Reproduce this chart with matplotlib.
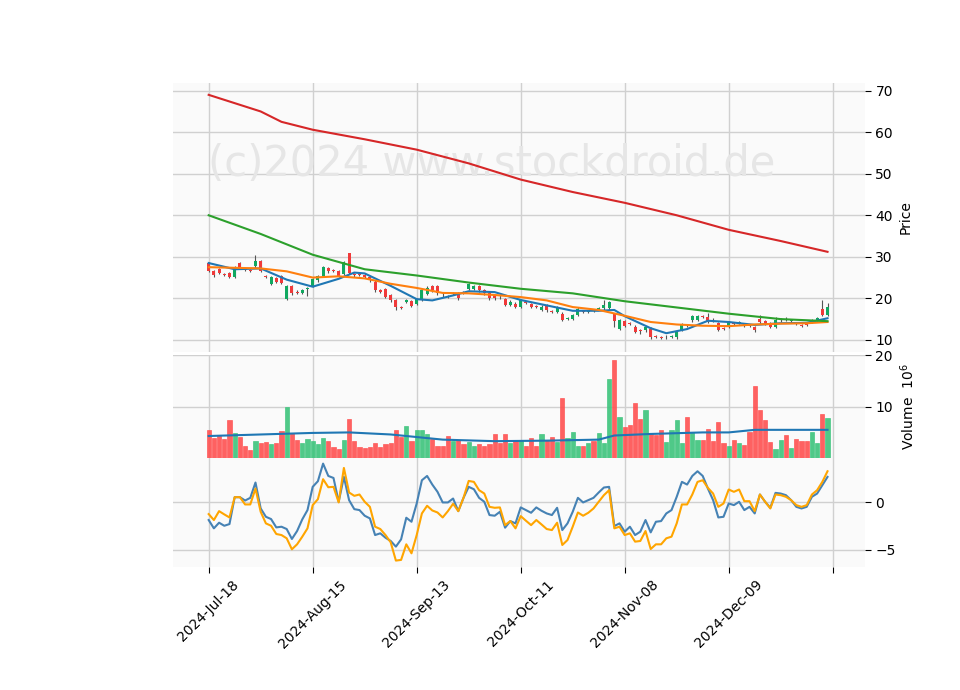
import matplotlib
matplotlib.use('Agg')
import matplotlib.pyplot as plt

# candles (open / close)
opens = [28.5, 26.5, 27.0, 25.9, 26.0, 25.1, 28.5, 27.1, 26.8, 27.7,
         29.0, 25.4, 23.4, 24.9, 25.4, 19.8, 23.0, 21.6, 21.4, 22.3,
         23.0, 24.3, 25.4, 27.3, 26.8, 26.6, 25.8, 30.9, 25.9, 25.8,
         25.7, 25.1, 24.0, 22.0, 22.2, 20.7, 19.6, 17.9, 19.1, 19.4,
         18.6, 19.6, 21.0, 22.9, 22.9, 20.9, 20.5, 21.0, 21.2, 21.5,
         22.2, 22.3, 23.0, 22.0, 21.4, 20.6, 20.4, 19.8, 18.4, 18.7,
         18.0, 19.1, 18.6, 18.1, 17.2, 18.4, 16.9, 16.8, 16.3, 15.0,
         15.0, 16.0, 16.9, 16.7, 17.1, 17.5, 17.6, 17.6, 16.2, 12.6,
         14.6, 14.1, 13.2, 12.4, 12.3, 12.7, 10.9, 10.7, 10.6, 10.7,
         10.6, 12.4, 13.5, 14.7, 14.8, 15.7, 15.6, 14.9, 14.0, 12.9,
         13.2, 14.1, 14.1, 13.7, 13.5, 13.1, 15.0, 14.6, 14.0, 13.1,
         14.7, 15.1, 14.5, 14.1, 13.5, 14.0, 14.4, 14.8, 17.5, 16.1]
closes = [26.7, 25.5, 26.2, 25.7, 25.1, 27.5, 27.3, 26.9, 26.6, 29.0,
          26.7, 25.2, 25.1, 23.9, 23.7, 23.0, 21.2, 21.4, 22.0, 22.5,
          24.6, 25.3, 27.5, 26.5, 26.6, 25.4, 28.7, 26.1, 25.5, 25.6,
          25.1, 24.3, 21.9, 21.6, 20.4, 19.5, 17.8, 17.7, 19.5, 18.1,
          19.8, 22.0, 22.6, 21.9, 21.2, 20.7, 20.3, 21.2, 20.0, 21.3,
          23.4, 23.0, 21.9, 21.2, 20.0, 20.0, 20.2, 18.5, 19.2, 18.0,
          19.5, 18.9, 18.0, 17.9, 18.0, 17.1, 16.7, 17.8, 14.8, 15.2,
          16.0, 17.5, 16.7, 16.9, 17.0, 17.7, 18.4, 19.0, 14.6, 14.8,
          13.4, 13.9, 12.0, 12.2, 13.1, 10.6, 10.7, 10.5, 10.8, 10.9,
          11.8, 13.8, 13.3, 15.8, 15.8, 15.5, 14.4, 14.7, 12.4, 12.7,
          14.2, 13.9, 14.3, 13.5, 13.3, 12.3, 14.2, 13.9, 13.1, 14.8,
          14.9, 14.9, 14.7, 13.9, 13.3, 13.6, 14.8, 15.2, 16.0, 17.8]
# a few long wicks
high_wick = {9: 30.4, 27: 31.0, 76: 19.6, 96: 16.4, 106: 16.0, 109: 15.6, 118: 19.6, 119: 18.8}
low_wick = {15: 19.6, 19: 20.6, 36: 17.2, 78: 13.2, 83: 11.3, 90: 10.2}

volume = [5.4, 4.0, 4.4, 3.8, 7.4, 4.9, 4.2, 2.3, 1.6, 3.4,
          3.0, 3.2, 2.7, 2.9, 5.3, 10.0, 4.8, 3.6, 2.9, 3.8,
          3.4, 2.7, 4.0, 3.4, 2.1, 1.8, 3.6, 7.6, 3.4, 2.1,
          1.9, 2.1, 2.9, 2.1, 2.7, 3.0, 5.5, 4.2, 6.3, 3.4,
          5.5, 5.5, 4.6, 3.8, 2.4, 2.4, 4.3, 3.4, 3.6, 2.7,
          3.2, 2.3, 2.7, 2.3, 2.7, 4.7, 2.9, 4.7, 2.9, 3.4,
          3.6, 2.3, 4.0, 2.3, 4.7, 3.6, 4.2, 3.2, 11.6, 4.0,
          5.1, 2.3, 2.4, 3.0, 3.4, 4.9, 2.9, 15.3, 19.0, 8.0,
          6.0, 6.5, 10.8, 7.6, 9.4, 4.7, 4.5, 5.5, 3.2, 5.5,
          7.4, 3.0, 8.0, 5.1, 3.6, 3.6, 5.6, 3.4, 7.0, 2.9,
          2.3, 3.6, 2.9, 2.5, 5.1, 14.0, 9.3, 7.4, 3.2, 1.8,
          3.6, 4.5, 2.0, 3.8, 3.4, 3.4, 5.1, 3.0, 8.6, 7.8]
vol_ma_x = [0, 10, 20, 27, 35, 45, 55, 65, 75, 78, 85, 95, 100, 105, 119]
vol_ma = [4.3, 4.6, 4.9, 5.0, 4.6, 3.6, 3.3, 3.4, 3.6, 4.4, 4.7, 5.0, 5.0, 5.5, 5.5]

# moving averages (sampled)
ma_red_x = [0, 10, 14, 20, 30, 40, 50, 60, 70, 80, 90, 100, 110, 119]
ma_red = [69.0, 65.0, 62.5, 60.6, 58.3, 55.8, 52.5, 48.6, 45.6, 43.0, 40.0, 36.5, 33.8, 31.2]
ma_green_x = [0, 10, 20, 30, 40, 50, 60, 70, 80, 90, 100, 110, 119]
ma_green = [40.0, 35.5, 30.5, 27.0, 25.5, 23.8, 22.3, 21.2, 19.3, 17.8, 16.3, 15.0, 14.5]
ma_orange_x = [0, 10, 15, 20, 25, 30, 35, 40, 45, 50, 55, 60, 65, 70, 75, 80, 85, 90, 95, 100, 105, 110, 115, 119]
ma_orange = [27.5, 27.2, 26.5, 25.0, 25.3, 24.8, 23.5, 22.5, 21.3, 21.2, 20.8, 20.3, 19.5, 17.9,
             17.2, 15.8, 14.3, 13.7, 13.4, 13.3, 13.7, 13.9, 14.0, 14.3]
ma_blue_x = [0, 5, 10, 15, 20, 25, 28, 30, 35, 40, 43, 47, 50, 55, 60, 65, 70, 75, 78, 80,
             85, 88, 92, 96, 100, 105, 110, 115, 119]
ma_blue = [28.5, 27.0, 27.2, 24.5, 22.8, 24.7, 26.2, 26.0, 23.0, 19.8, 19.5, 20.7, 21.7, 21.5,
           19.6, 18.3, 17.0, 17.0, 17.2, 15.7, 12.8, 11.6, 12.6, 14.6, 14.3, 13.6, 14.0, 14.1, 15.2]

osc_blue = [-1.87, -2.74, -2.15, -2.47, -2.29, 0.52, 0.52, 0.17, 0.45, 2.05,
            -0.66, -1.53, -1.77, -2.64, -2.57, -2.81, -3.85, -3.02, -1.80, -0.83,
            1.60, 2.19, 4.03, 2.74, 2.53, 0.04, 2.64, 0.21, -0.73, -0.83,
            -1.42, -1.70, -3.44, -3.26, -3.72, -4.06, -4.65, -3.89, -1.63, -2.05,
            -0.14, 2.29, 2.74, 1.84, 1.08, -0.03, -0.03, 0.38, -0.94, 0.45,
            1.60, 1.35, 0.45, 0.04, -1.35, -1.42, -1.01, -2.67, -1.98, -2.22,
            -0.55, -0.83, -1.11, -0.55, -0.90, -1.18, -1.35, -0.59, -2.92, -2.22,
            -1.01, 0.45, -0.03, 0.21, 0.45, 1.01, 1.53, 1.60, -2.50, -2.22,
            -3.09, -2.57, -3.44, -3.09, -1.87, -3.16, -2.05, -1.98, -1.18, -0.83,
            0.56, 2.12, 1.84, 2.74, 3.23, 2.74, 1.42, 0.21, -1.60, -1.53,
            -0.14, -0.31, 0.04, -0.83, -0.49, -1.18, 0.80, 0.04, -0.59, 0.97,
            0.90, 0.73, 0.21, -0.49, -0.66, -0.49, 0.56, 0.90, 1.77, 2.64]
osc_orange = [-1.25, -1.87, -0.94, -1.28, -1.60, 0.52, 0.52, -0.24, -0.24, 1.42,
              -1.01, -2.22, -2.47, -3.33, -3.44, -3.78, -4.93, -4.41, -3.61, -2.74,
              -0.31, 0.31, 2.40, 1.56, 1.60, -0.03, 3.58, 1.01, 0.66, 0.80,
              0.04, -0.49, -2.57, -2.81, -3.44, -4.20, -6.11, -6.04, -4.41, -5.35,
              -3.44, -1.18, -0.38, -0.87, -1.08, -1.60, -0.94, -0.17, -0.94, 0.45,
              2.22, 2.12, 1.25, 0.90, -0.49, -0.59, -0.55, -2.40, -1.98, -2.74,
              -1.46, -1.94, -2.40, -1.87, -2.33, -2.81, -2.92, -2.15, -4.48, -3.96,
              -2.57, -1.08, -1.42, -1.11, -0.66, 0.04, 0.73, 1.25, -2.74, -2.57,
              -3.44, -3.26, -4.13, -4.06, -3.02, -4.90, -4.41, -4.41, -3.78, -3.61,
              -2.22, -0.24, -0.24, 0.80, 2.12, 2.29, 1.49, 0.90, -0.49, -0.14,
              1.32, 1.08, 1.32, 0.10, 0.10, -0.94, 0.80, 0.04, -0.66, 0.80,
              0.73, 0.56, 0.21, -0.31, -0.49, -0.31, 0.80, 1.25, 2.12, 3.23]

tick_pos = [0, 20, 40, 60, 80, 100, 120]
tick_labels = ['2024-Jul-18', '2024-Aug-15', '2024-Sep-13', '2024-Oct-11', '2024-Nov-08', '2024-Dec-09', '']

UP = '#10a860'
DOWN = '#f03a3a'
BG = '#fafafa'
GRID = '#d0d0d0'

fig = plt.figure(figsize=(9.6, 6.9), dpi=100)
L, W = 0.180, 0.721
ax1 = fig.add_axes([L, 0.490, W, 0.390])
ax2 = fig.add_axes([L, 0.336, W, 0.150], sharex=ax1)
ax3 = fig.add_axes([L, 0.178, W, 0.158], sharex=ax1)

n = len(opens)
x = list(range(n))
cols = [UP if c >= o else DOWN for o, c in zip(opens, closes)]

for ax in (ax1, ax2, ax3):
    ax.set_facecolor(BG)
    ax.grid(True, color=GRID, linewidth=1)
    ax.set_axisbelow(True)
    for s in ax.spines.values():
        s.set_visible(False)
    ax.yaxis.tick_right()
    ax.yaxis.set_label_position('right')
    ax.tick_params(length=4, color='black')

# price
for i in x:
    o, c = opens[i], closes[i]
    hi = high_wick.get(i, max(o, c) + 0.3)
    lo = low_wick.get(i, min(o, c) - 0.3)
    ax1.vlines(i, lo, hi, color='#555555', linewidth=0.8, zorder=2)
    body = abs(c - o) if abs(c - o) > 0.15 else 0.15
    ax1.bar(i, body, bottom=min(o, c), width=0.6, color=cols[i], zorder=3)
ax1.plot(ma_blue_x, ma_blue, color='#1f77b4', linewidth=1.5, zorder=4)
ax1.plot(ma_orange_x, ma_orange, color='#ff7f0e', linewidth=1.5, zorder=4)
ax1.plot(ma_green_x, ma_green, color='#2ca02c', linewidth=1.5, zorder=4)
ax1.plot(ma_red_x, ma_red, color='#d62728', linewidth=1.5, zorder=4)
ax1.set_ylim(7.1, 71.9)
ax1.set_yticks([10, 20, 30, 40, 50, 60, 70])
ax1.set_ylabel('Price')
ax1.text(0.46, 0.70, '(c)2024 www.stockdroid.de', transform=ax1.transAxes,
         ha='center', va='center', fontsize=30, color='#e6e6e6', zorder=1)
ax1.tick_params(labelbottom=False, bottom=False)

# volume
vcols = ['#3cc47c' if c == UP else '#ff5050' for c in cols]
ax2.bar(x, volume, width=0.8, color=vcols, alpha=0.9, edgecolor=vcols, linewidth=0.5)
ax2.plot(vol_ma_x, vol_ma, color='#1f77b4', linewidth=1.5)
ax2.set_ylim(0, 20.1)
ax2.set_yticks([10, 20])
ax2.set_ylabel('Volume  $10^6$')
ax2.tick_params(labelbottom=False, bottom=False)

# oscillator
ax3.plot(x, osc_blue, color='#4682b4', linewidth=1.5)
ax3.plot(x, osc_orange, color='orange', linewidth=1.5)
ax3.set_ylim(-6.8, 4.6)
ax3.set_yticks([-5, 0])
ax3.set_xlim(-6.9, 126.2)
ax3.set_xticks(tick_pos)
ax3.set_xticklabels(tick_labels, rotation=45, ha='center', fontsize=10)

fig.savefig('out.png', dpi=100)
